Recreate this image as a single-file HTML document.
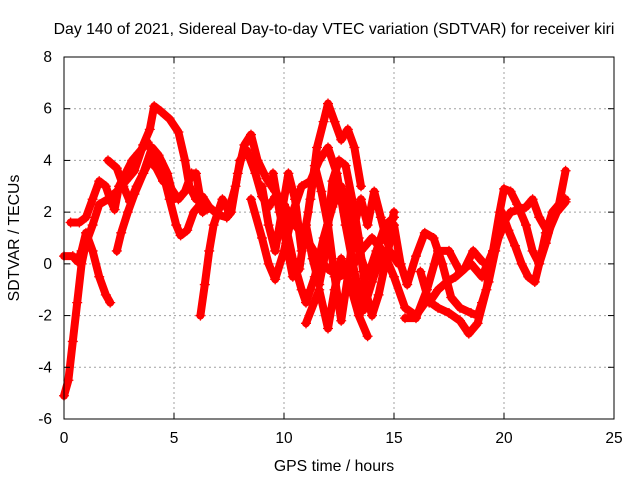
<!DOCTYPE html>
<html><head><meta charset="utf-8"><style>
body{margin:0;background:#fff}
svg{display:block;font-family:"Liberation Sans",sans-serif}
</style></head><body>
<svg id="chart" width="640" height="480" viewBox="0 0 640 480" xmlns="http://www.w3.org/2000/svg">
<rect width="640" height="480" fill="#fff"/>
<text x="334" y="34" font-size="15.8" text-anchor="middle">Day 140 of 2021, Sidereal Day-to-day VTEC variation (SDTVAR) for receiver kiri</text>
<text x="334" y="471" font-size="15.8" text-anchor="middle">GPS time / hours</text>
<text transform="translate(19,238) rotate(-90)" font-size="15.8" text-anchor="middle">SDTVAR / TECUs</text>
<g id="grid"></g><g id="marks"></g><g id="axes"></g>
</svg>
<script>
const xTicks=[0,5,10,15,20,25];
const yTicks=[-6,-4,-2,0,2,4,6,8];
const track1=[[0,-5.1],[0.2,-4.5],[0.4,-3],[0.6,-1.5],[0.8,0],[1,0.8],[1.3,1.5],[1.6,2.3],[2,2.5],[2.4,2.8],[2.8,3.2],[3.2,3.6],[3.6,4.6],[3.9,5.2],[4.1,6.1],[4.4,5.9],[4.8,5.6],[5.2,5.1],[5.5,4],[5.7,3],[6,2.5],[6.3,2.6],[6.6,2.2],[7,1.9],[7.4,1.8],[7.6,2],[7.9,3.5],[8.2,4.6],[8.5,5],[8.8,4],[9.2,3.3],[9.6,2.8],[10,2.3],[10.5,1.5],[11,1],[11.5,0.3],[12,-0.2],[12.5,-0.5],[13,-0.3],[13.5,0.5],[14,1],[14.5,0.5],[15,-0.5],[15.5,-1.7],[16,-2],[16.5,-1.4],[17,-1.7],[17.5,-1.9],[18,-2.2],[18.4,-2.7],[18.8,-2.3],[19.2,-1],[19.5,0.5],[19.8,2],[20,2.9],[20.3,2.8],[20.6,2.3],[21,1.5],[21.3,0.5],[21.6,0],[21.9,0.8],[22.2,1.7],[22.5,2.3],[22.8,3.6]];
const track2=[[0,0.3],[0.4,0.3],[0.6,0.1],[0.8,0.5],[1,1.2],[1.3,0.5],[1.6,-0.5],[1.9,-1.2],[2.1,-1.5]];
const track3=[[0.3,1.6],[0.7,1.6],[1,1.8],[1.3,2.5],[1.6,3.2],[1.9,3],[2.1,2.5],[2.3,2.1],[2.5,3],[2.8,3.5],[3.1,4],[3.4,4.3],[3.8,4.7],[4.2,4],[4.5,3.5],[4.8,2.5],[5.1,1.5],[5.3,1.1],[5.6,1.3],[5.9,2],[6.2,2.3],[6.5,2.1]];
const track4=[[6.2,-2],[6.4,-0.8],[6.6,0.5],[6.8,1.5],[7.2,2.5],[7.5,2]];
const track5=[[2,4],[2.4,3.7],[2.7,3],[3,2.4],[3.3,3],[3.6,3.5],[3.9,4],[4.2,3.7],[4.5,3.2],[4.8,3],[5.2,2.5],[5.5,2.8],[5.8,3.5],[6,3.5],[6.3,2]];
const track6=[[2.4,0.5],[2.6,1.2],[2.9,2],[3.2,2.7],[3.6,3.5],[4,4.5],[4.3,4.2],[4.7,3.5],[5,2.5]];
const track7=[[7.4,1.8],[7.8,3],[8,4],[8.3,4.4],[8.7,3.5],[9,2.6],[9.3,2.2],[9.6,2.6],[10,1.8],[10.4,0.2],[10.8,-1],[11,-1.5],[11.4,-0.5],[11.8,1],[12.2,2.2],[12.6,3],[13,2],[13.4,0.5],[13.8,-0.5],[14.2,0.5],[14.6,1.5],[15,1.8]];
const track8=[[8.5,2.5],[9,1],[9.3,0],[9.6,-0.6],[10,0.5],[10.4,2],[10.8,3],[11.2,3.2],[11.6,4],[12,4.5],[12.4,3.5],[12.8,1.5],[13.2,-0.3],[13.6,-1.8],[14,-0.7],[14.4,0.3],[14.8,0.5],[15.2,0]];
const track9=[[11.2,2.5],[11.5,4.5],[11.8,5.5],[12,6.2],[12.3,5.5],[12.6,4.8],[12.9,5.2],[13.2,4.5],[13.5,3]];
const track10=[[11,-2.3],[11.6,-1],[12,-2.5],[12.3,-1],[12.6,0.2],[13,-0.8],[13.4,-2],[13.8,-2.8]];
const track11=[[15,1.5],[15.3,0],[15.6,-0.8],[16,0.3],[16.4,1.2],[16.8,1],[17.2,0],[17.6,-1.3],[18,-1.7],[18.5,-1.9],[18.8,-2],[19,-1.5],[19.3,-0.7],[19.6,0.5],[19.9,1.5],[20.3,2],[20.7,2.1],[21,2.2],[21.3,2.5],[21.6,1.8],[22,1.2],[22.4,2],[22.8,2.4]];
const track12=[[15.5,-2.1],[16,-2.1],[16.5,-1],[17,0.5],[17.5,0.5],[18,-0.3],[18.5,0],[19,-0.5],[19.5,0.5],[20,1.5]];
const track13=[[16.2,-0.3],[16.6,-1.5],[17,-1],[17.4,-0.7],[17.8,-0.5],[18.2,-0.2],[18.6,0.5],[19,0.1]];
const track14=[[19.9,2],[20.2,1.3],[20.5,0.7],[20.8,0],[21.1,-0.5],[21.4,-0.7],[21.6,0],[21.9,1.2],[22.2,2],[22.6,2.4],[22.8,2.5]];
const track15=[[9,3],[9.3,1.5],[9.6,0.5],[9.9,2],[10.2,3.5],[10.5,2.5],[10.8,0.5],[11.1,2],[11.4,3.8],[11.7,2.8],[12,1.5],[12.3,-0.5],[12.6,-2.2],[12.9,-0.5],[13.2,1.5],[13.5,2.5],[13.8,1.5],[14.1,2.8],[14.4,1.8],[14.7,0.8],[15,2]];
const track16=[[9.5,3.5],[9.8,2],[10.1,0.8],[10.4,-0.5],[10.7,-0.2],[11,1.5],[11.3,0.2],[11.6,-0.8],[11.9,0.5],[12.2,3.2],[12.5,4],[12.8,3.8],[13.1,2.5],[13.4,1],[13.7,-1],[14,-2],[14.3,-1.2],[14.6,0],[14.9,1.2]];
const tracks=[track1,track2,track3,track4,track5,track6,track7,track8,track9,track10,track11,track12,track13,track14,track15,track16];

const L=64,R=614,T=57,B=419;
const xs=h=>L+(h-0)/25*(R-L);
const ys=v=>B-(v+6)/14*(B-T);
const NS="http://www.w3.org/2000/svg";
function mk(parent,tag,attrs){const e=document.createElementNS(NS,tag);for(const k in attrs)e.setAttribute(k,attrs[k]);parent.appendChild(e);return e;}
const grid=document.getElementById('grid'),marks=document.getElementById('marks'),axes=document.getElementById('axes');
xTicks.forEach(t=>{
  if(t>0&&t<25){const g=mk(grid,'line',{x1:xs(t),x2:xs(t),y1:T,y2:B,stroke:'#a0a0a0','stroke-dasharray':'2,3'});
  
  }
  const lb=mk(axes,'text',{x:xs(t),y:B+24,'font-size':15.5,'text-anchor':'middle'});lb.textContent=t;
  
  
  mk(axes,'line',{x1:xs(t),x2:xs(t),y1:B,y2:B-6,stroke:'#000'});mk(axes,'line',{x1:xs(t),x2:xs(t),y1:T,y2:T+6,stroke:'#000'});
});
yTicks.forEach(t=>{
  if(t>-6&&t<8){const g=mk(grid,'line',{x1:L,x2:R,y1:ys(t),y2:ys(t),stroke:'#a0a0a0','stroke-dasharray':'2,3'});
  
  }
  const lb=mk(axes,'text',{x:L-12,y:ys(t)+5,'font-size':15.5,'text-anchor':'end'});lb.textContent=t;
  
  
  mk(axes,'line',{x1:L,x2:L+6,y1:ys(t),y2:ys(t),stroke:'#000'});mk(axes,'line',{x1:R,x2:R-6,y1:ys(t),y2:ys(t),stroke:'#000'});
});
const frame=mk(axes,'rect',{x:L,y:T,width:R-L,height:B-T,fill:'none',stroke:'#000'});


tracks.forEach((tr,i)=>{
  const pl=mk(marks,'polyline',{points:tr.map(p=>xs(p[0])+','+ys(p[1])).join(' '),fill:'none',stroke:'#ff0000','stroke-width':8,'stroke-linejoin':'round','stroke-linecap':'round'});
  
  
  tr.forEach(p=>{const x=xs(p[0]),y=ys(p[1]);
    const m=mk(marks,'path',{d:`M${x-5},${y}h10M${x},${y-5}v10`,stroke:'#ff0000','stroke-width':1.3});
    
    
  });
});
</script>
</body></html>
